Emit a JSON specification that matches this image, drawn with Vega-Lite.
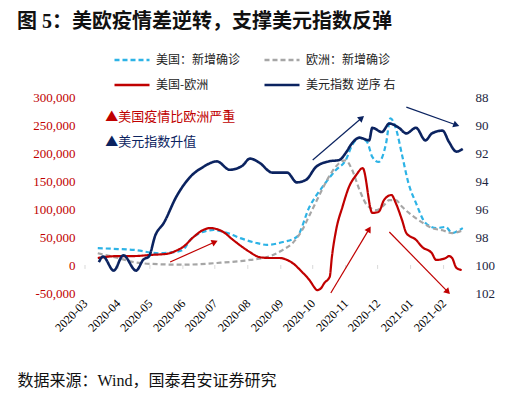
{
  "$schema": "https://vega.github.io/schema/vega-lite/v6.json",
  "width": 382,
  "height": 196,
  "autosize": {"type": "none"},
  "padding": {"left": 85, "top": 97, "right": 54, "bottom": 104},
  "background": "white",
  "config": {"view": {"stroke": null}, "font": "Noto Sans CJK SC", "axis": {"labelOverlap": false}},
  "title": {"text": "图 5：美欧疫情差逆转，支撑美元指数反弹", "anchor": "start", "frame": "group", "dx": -68, "dy": -5, "offset": 4, "fontSize": 20, "fontWeight": "bold", "color": "#111111", "font": "Liberation Serif, Noto Sans CJK SC"},
  "datasets": {
    "cases": [
      {"date": "2020-03-13", "series": "美国：新增确诊", "value": 30000},
      {"date": "2020-04-01", "series": "美国：新增确诊", "value": 28500},
      {"date": "2020-04-16", "series": "美国：新增确诊", "value": 27000},
      {"date": "2020-05-09", "series": "美国：新增确诊", "value": 21000},
      {"date": "2020-05-24", "series": "美国：新增确诊", "value": 23000},
      {"date": "2020-06-01", "series": "美国：新增确诊", "value": 27000},
      {"date": "2020-06-08", "series": "美国：新增确诊", "value": 45000},
      {"date": "2020-06-17", "series": "美国：新增确诊", "value": 57000},
      {"date": "2020-06-30", "series": "美国：新增确诊", "value": 62500},
      {"date": "2020-07-13", "series": "美国：新增确诊", "value": 57000},
      {"date": "2020-07-25", "series": "美国：新增确诊", "value": 48000},
      {"date": "2020-08-10", "series": "美国：新增确诊", "value": 39000},
      {"date": "2020-08-19", "series": "美国：新增确诊", "value": 36000},
      {"date": "2020-09-03", "series": "美国：新增确诊", "value": 41000},
      {"date": "2020-09-16", "series": "美国：新增确诊", "value": 50000},
      {"date": "2020-09-28", "series": "美国：新增确诊", "value": 104000},
      {"date": "2020-10-10", "series": "美国：新增确诊", "value": 139000},
      {"date": "2020-10-23", "series": "美国：新增确诊", "value": 170000},
      {"date": "2020-11-01", "series": "美国：新增确诊", "value": 187000},
      {"date": "2020-11-07", "series": "美国：新增确诊", "value": 214000},
      {"date": "2020-11-14", "series": "美国：新增确诊", "value": 227000},
      {"date": "2020-11-21", "series": "美国：新增确诊", "value": 220000},
      {"date": "2020-11-26", "series": "美国：新增确诊", "value": 193000},
      {"date": "2020-12-02", "series": "美国：新增确诊", "value": 184000},
      {"date": "2020-12-09", "series": "美国：新增确诊", "value": 218000},
      {"date": "2020-12-13", "series": "美国：新增确诊", "value": 262000},
      {"date": "2020-12-18", "series": "美国：新增确诊", "value": 245000},
      {"date": "2020-12-24", "series": "美国：新增确诊", "value": 196000},
      {"date": "2020-12-30", "series": "美国：新增确诊", "value": 146000},
      {"date": "2021-01-06", "series": "美国：新增确诊", "value": 111000},
      {"date": "2021-01-15", "series": "美国：新增确诊", "value": 75000},
      {"date": "2021-01-25", "series": "美国：新增确诊", "value": 66000},
      {"date": "2021-02-03", "series": "美国：新增确诊", "value": 68000},
      {"date": "2021-02-09", "series": "美国：新增确诊", "value": 57000},
      {"date": "2021-02-16", "series": "美国：新增确诊", "value": 62500},
      {"date": "2021-02-19", "series": "美国：新增确诊", "value": 66000},

      {"date": "2020-03-13", "series": "欧洲：新增确诊", "value": 21000},
      {"date": "2020-04-01", "series": "欧洲：新增确诊", "value": 12500},
      {"date": "2020-04-16", "series": "欧洲：新增确诊", "value": 5000},
      {"date": "2020-05-02", "series": "欧洲：新增确诊", "value": 2000},
      {"date": "2020-06-01", "series": "欧洲：新增确诊", "value": 500},
      {"date": "2020-07-03", "series": "欧洲：新增确诊", "value": 3600},
      {"date": "2020-08-03", "series": "欧洲：新增确诊", "value": 9000},
      {"date": "2020-08-19", "series": "欧洲：新增确诊", "value": 14000},
      {"date": "2020-09-03", "series": "欧洲：新增确诊", "value": 27000},
      {"date": "2020-09-12", "series": "欧洲：新增确诊", "value": 39000},
      {"date": "2020-09-21", "series": "欧洲：新增确诊", "value": 62000},
      {"date": "2020-09-28", "series": "欧洲：新增确诊", "value": 89000},
      {"date": "2020-10-05", "series": "欧洲：新增确诊", "value": 116000},
      {"date": "2020-10-12", "series": "欧洲：新增确诊", "value": 143000},
      {"date": "2020-10-19", "series": "欧洲：新增确诊", "value": 166000},
      {"date": "2020-10-26", "series": "欧洲：新增确诊", "value": 182000},
      {"date": "2020-11-01", "series": "欧洲：新增确诊", "value": 187000},
      {"date": "2020-11-07", "series": "欧洲：新增确诊", "value": 170000},
      {"date": "2020-11-14", "series": "欧洲：新增确诊", "value": 134000},
      {"date": "2020-11-21", "series": "欧洲：新增确诊", "value": 107000},
      {"date": "2020-11-30", "series": "欧洲：新增确诊", "value": 98000},
      {"date": "2020-12-07", "series": "欧洲：新增确诊", "value": 107000},
      {"date": "2020-12-12", "series": "欧洲：新增确诊", "value": 116000},
      {"date": "2020-12-18", "series": "欧洲：新增确诊", "value": 116000},
      {"date": "2020-12-24", "series": "欧洲：新增确诊", "value": 104000},
      {"date": "2021-01-02", "series": "欧洲：新增确诊", "value": 89000},
      {"date": "2021-01-11", "series": "欧洲：新增确诊", "value": 77000},
      {"date": "2021-01-21", "series": "欧洲：新增确诊", "value": 66000},
      {"date": "2021-01-31", "series": "欧洲：新增确诊", "value": 62000},
      {"date": "2021-02-09", "series": "欧洲：新增确诊", "value": 57000},
      {"date": "2021-02-19", "series": "欧洲：新增确诊", "value": 62000},

      {"date": "2020-03-13", "series": "美国-欧洲", "value": 12500},
      {"date": "2020-04-01", "series": "美国-欧洲", "value": 16000},
      {"date": "2020-04-16", "series": "美国-欧洲", "value": 16000},
      {"date": "2020-05-02", "series": "美国-欧洲", "value": 18000},
      {"date": "2020-05-17", "series": "美国-欧洲", "value": 20000},
      {"date": "2020-05-25", "series": "美国-欧洲", "value": 25000},
      {"date": "2020-06-01", "series": "美国-欧洲", "value": 32000},
      {"date": "2020-06-11", "series": "美国-欧洲", "value": 50000},
      {"date": "2020-06-20", "series": "美国-欧洲", "value": 62500},
      {"date": "2020-06-27", "series": "美国-欧洲", "value": 66000},
      {"date": "2020-07-03", "series": "美国-欧洲", "value": 64000},
      {"date": "2020-07-09", "series": "美国-欧洲", "value": 59000},
      {"date": "2020-07-18", "series": "美国-欧洲", "value": 45000},
      {"date": "2020-07-27", "series": "美国-欧洲", "value": 32000},
      {"date": "2020-08-03", "series": "美国-欧洲", "value": 23000},
      {"date": "2020-08-12", "series": "美国-欧洲", "value": 14000},
      {"date": "2020-08-22", "series": "美国-欧洲", "value": 12500},
      {"date": "2020-08-31", "series": "美国-欧洲", "value": 12500},
      {"date": "2020-09-07", "series": "美国-欧洲", "value": 9000},
      {"date": "2020-09-12", "series": "美国-欧洲", "value": 3600},
      {"date": "2020-09-21", "series": "美国-欧洲", "value": -12500},
      {"date": "2020-09-28", "series": "美国-欧洲", "value": -27000},
      {"date": "2020-10-03", "series": "美国-欧洲", "value": -41000},
      {"date": "2020-10-05", "series": "美国-欧洲", "value": -45000},
      {"date": "2020-10-09", "series": "美国-欧洲", "value": -41000},
      {"date": "2020-10-12", "series": "美国-欧洲", "value": -32000},
      {"date": "2020-10-17", "series": "美国-欧洲", "value": -21000},
      {"date": "2020-10-19", "series": "美国-欧洲", "value": 14000},
      {"date": "2020-10-23", "series": "美国-欧洲", "value": 62500},
      {"date": "2020-10-29", "series": "美国-欧洲", "value": 104000},
      {"date": "2020-11-04", "series": "美国-欧洲", "value": 139000},
      {"date": "2020-11-11", "series": "美国-欧洲", "value": 161000},
      {"date": "2020-11-17", "series": "美国-欧洲", "value": 173000},
      {"date": "2020-11-26", "series": "美国-欧洲", "value": 93000},
      {"date": "2020-12-02", "series": "美国-欧洲", "value": 95000},
      {"date": "2020-12-07", "series": "美国-欧洲", "value": 116000},
      {"date": "2020-12-14", "series": "美国-欧洲", "value": 125000},
      {"date": "2020-12-18", "series": "美国-欧洲", "value": 111000},
      {"date": "2020-12-24", "series": "美国-欧洲", "value": 80000},
      {"date": "2020-12-28", "series": "美国-欧洲", "value": 57000},
      {"date": "2021-01-06", "series": "美国-欧洲", "value": 45000},
      {"date": "2021-01-12", "series": "美国-欧洲", "value": 32000},
      {"date": "2021-01-21", "series": "美国-欧洲", "value": 21000},
      {"date": "2021-01-25", "series": "美国-欧洲", "value": 9000},
      {"date": "2021-02-03", "series": "美国-欧洲", "value": 12500},
      {"date": "2021-02-06", "series": "美国-欧洲", "value": 16000},
      {"date": "2021-02-09", "series": "美国-欧洲", "value": 12500},
      {"date": "2021-02-13", "series": "美国-欧洲", "value": -5000},
      {"date": "2021-02-18", "series": "美国-欧洲", "value": -9000}
    ],
    "usd": [
      {"date": "2020-03-14", "series": "美元指数 逆序 右", "value": 99.8},
      {"date": "2020-03-18", "series": "美元指数 逆序 右", "value": 99.4},
      {"date": "2020-03-28", "series": "美元指数 逆序 右", "value": 100.4},
      {"date": "2020-04-06", "series": "美元指数 逆序 右", "value": 99.3},
      {"date": "2020-04-18", "series": "美元指数 逆序 右", "value": 100.4},
      {"date": "2020-04-25", "series": "美元指数 逆序 右", "value": 99.6},
      {"date": "2020-04-30", "series": "美元指数 逆序 右", "value": 99.4},
      {"date": "2020-05-06", "series": "美元指数 逆序 右", "value": 97.9},
      {"date": "2020-05-14", "series": "美元指数 逆序 右", "value": 97.0},
      {"date": "2020-05-26", "series": "美元指数 逆序 右", "value": 95.1},
      {"date": "2020-06-08", "series": "美元指数 逆序 右", "value": 93.7},
      {"date": "2020-06-20", "series": "美元指数 逆序 右", "value": 93.0},
      {"date": "2020-07-03", "series": "美元指数 逆序 右", "value": 92.6},
      {"date": "2020-07-15", "series": "美元指数 逆序 右", "value": 93.2},
      {"date": "2020-07-27", "series": "美元指数 逆序 右", "value": 92.9},
      {"date": "2020-08-03", "series": "美元指数 逆序 右", "value": 92.4},
      {"date": "2020-08-12", "series": "美元指数 逆序 右", "value": 92.7},
      {"date": "2020-08-24", "series": "美元指数 逆序 右", "value": 93.4},
      {"date": "2020-09-07", "series": "美元指数 逆序 右", "value": 93.4},
      {"date": "2020-09-16", "series": "美元指数 逆序 右", "value": 94.1},
      {"date": "2020-09-25", "series": "美元指数 逆序 右", "value": 93.9},
      {"date": "2020-10-04", "series": "美元指数 逆序 右", "value": 93.0},
      {"date": "2020-10-16", "series": "美元指数 逆序 右", "value": 92.6},
      {"date": "2020-10-26", "series": "美元指数 逆序 右", "value": 92.5},
      {"date": "2020-11-01", "series": "美元指数 逆序 右", "value": 92.0},
      {"date": "2020-11-07", "series": "美元指数 逆序 右", "value": 91.3},
      {"date": "2020-11-14", "series": "美元指数 逆序 右", "value": 90.9},
      {"date": "2020-11-23", "series": "美元指数 逆序 右", "value": 91.1},
      {"date": "2020-11-26", "series": "美元指数 逆序 右", "value": 90.2},
      {"date": "2020-12-05", "series": "美元指数 逆序 右", "value": 90.5},
      {"date": "2020-12-12", "series": "美元指数 逆序 右", "value": 89.9},
      {"date": "2020-12-21", "series": "美元指数 逆序 右", "value": 90.2},
      {"date": "2020-12-28", "series": "美元指数 逆序 右", "value": 90.6},
      {"date": "2021-01-06", "series": "美元指数 逆序 右", "value": 90.2},
      {"date": "2021-01-15", "series": "美元指数 逆序 右", "value": 91.1},
      {"date": "2021-01-21", "series": "美元指数 逆序 右", "value": 90.6},
      {"date": "2021-01-31", "series": "美元指数 逆序 右", "value": 90.4},
      {"date": "2021-02-06", "series": "美元指数 逆序 右", "value": 91.2},
      {"date": "2021-02-13", "series": "美元指数 逆序 右", "value": 91.9},
      {"date": "2021-02-19", "series": "美元指数 逆序 右", "value": 91.7}
    ],
    "arrows": [
      {"id": "a1", "kind": "红", "x1": "2020-05-20", "y1": 5400, "x2": "2020-07-01", "y2": 41000},
      {"id": "a2", "kind": "蓝", "x1": "2020-10-01", "y1": 187500, "x2": "2020-11-16", "y2": 262500},
      {"id": "a3", "kind": "蓝", "x1": "2020-12-28", "y1": 282000, "x2": "2021-02-13", "y2": 250000},
      {"id": "a4", "kind": "红", "x1": "2020-10-18", "y1": -50000, "x2": "2020-11-23", "y2": 64000},
      {"id": "a5", "kind": "红", "x1": "2020-12-12", "y1": 59000, "x2": "2021-02-05", "y2": -48000}
    ],
    "notes": [
      {"kind": "红", "date": "2020-03-20", "v": 264000, "label": "▲美国疫情比欧洲严重"},
      {"kind": "蓝", "date": "2020-03-20", "v": 220000, "label": "▲美元指数升值"}
    ],
    "months": [
      {"date": "2020-03-01"}, {"date": "2020-04-01"}, {"date": "2020-05-01"}, {"date": "2020-06-01"},
      {"date": "2020-07-01"}, {"date": "2020-08-01"}, {"date": "2020-09-01"}, {"date": "2020-10-01"},
      {"date": "2020-11-01"}, {"date": "2020-12-01"}, {"date": "2021-01-01"}, {"date": "2021-02-01"}
    ]
  },
  "layer": [
    {
      "layer": [
        {
          "data": {"name": "months"},
          "mark": {"type": "rule", "color": "#D9D9D9", "strokeWidth": 1},
          "encoding": {
            "x": {"field": "date", "type": "temporal"},
            "y": {"datum": 0},
            "y2": {"datum": -7000}
          }
        },
        {
          "mark": {"type": "rule", "color": "#D9D9D9", "strokeWidth": 1},
          "encoding": {"y": {"datum": 0}}
        },
        {
          "data": {"name": "cases"},
          "mark": {"type": "line", "strokeWidth": 2.2, "interpolate": "monotone"},
          "encoding": {
            "x": {
              "field": "date", "type": "temporal",
              "scale": {"domain": [{"year": 2020, "month": 3, "date": 1, "utc": true}, {"year": 2021, "month": 2, "date": 23, "utc": true}]},
              "axis": {
                "orient": "bottom", "domain": false, "ticks": false, "grid": false,
                "format": "%Y-%m", "labelAngle": -45, "labelAlign": "right", "labelBaseline": "middle",
                "labelFont": "Liberation Serif", "labelFontSize": 12, "labelColor": "#000000", "labelPadding": 8,
                "tickCount": {"interval": "month", "step": 1}, "labelOverlap": false, "labelBound": false, "labelFlush": false,
                "title": "数据来源：Wind，国泰君安证券研究", "titleAnchor": "start", "titleAlign": "left",
                "titleX": -68, "titleY": 87, "titleBaseline": "middle", "titleFont": "Liberation Serif, Noto Sans CJK SC",
                "titleFontSize": 16, "titleFontWeight": "normal", "titleColor": "#111111"
              }
            },
            "y": {
              "field": "value", "type": "quantitative",
              "scale": {"domain": [-50000, 300000], "nice": false, "zero": false},
              "axis": {
                "orient": "left", "domain": false, "ticks": false, "grid": false, "title": null,
                "values": [-50000, 0, 50000, 100000, 150000, 200000, 250000, 300000], "tickCount": 10,
                "format": ",d", "labelExpr": "replace(datum.label, '\u2212', '-')", "labelOverlap": false,
                "labelColor": "#C00000", "labelFont": "Liberation Serif", "labelFontSize": 13, "labelPadding": 10
              }
            },
            "color": {
              "field": "series", "type": "nominal",
              "scale": {"domain": ["美国：新增确诊", "美国-欧洲", "欧洲：新增确诊", "美元指数 逆序 右"], "range": ["#2DB3E6", "#C00000", "#A6A6A6", "#0B2360"]},
              "legend": {
                "title": null, "orient": "none", "legendX": 28, "legendY": -56, "columns": 2,
                "symbolType": "stroke", "symbolSize": 1225, "symbolStrokeWidth": 2.5,
                "labelFont": "Noto Sans CJK SC", "labelFontSize": 12, "labelColor": "#222222",
                "labelOffset": 5, "rowPadding": -13, "columnPadding": 18
              }
            },
            "strokeDash": {
              "field": "series", "type": "nominal",
              "scale": {"domain": ["美国：新增确诊", "美国-欧洲", "欧洲：新增确诊", "美元指数 逆序 右"], "range": [[5, 3], [1, 0], [5, 3], [1, 0]]},
              "legend": {
                "title": null, "orient": "none", "legendX": 28, "legendY": -56, "columns": 2,
                "symbolType": "stroke", "symbolSize": 1225, "symbolStrokeWidth": 2.5,
                "labelFont": "Noto Sans CJK SC", "labelFontSize": 12, "labelColor": "#222222",
                "labelOffset": 5, "rowPadding": -13, "columnPadding": 18
              }
            }
          }
        },
        {
          "data": {"name": "arrows"},
          "transform": [{"filter": "datum.kind === '红'"}],
          "mark": {"type": "rule", "color": "#C00000", "strokeWidth": 1.2},
          "encoding": {
            "x": {"field": "x1", "type": "temporal"},
            "x2": {"field": "x2"},
            "y": {"field": "y1", "type": "quantitative"},
            "y2": {"field": "y2"}
          }
        },
        {
          "data": {"name": "arrows"},
          "transform": [{"filter": "datum.kind === '蓝'"}],
          "mark": {"type": "rule", "color": "#0B2360", "strokeWidth": 1.2},
          "encoding": {
            "x": {"field": "x1", "type": "temporal"},
            "x2": {"field": "x2"},
            "y": {"field": "y1", "type": "quantitative"},
            "y2": {"field": "y2"}
          }
        },
        {
          "data": {"name": "arrows"},
          "transform": [{"filter": "datum.id === 'a1'"}],
          "mark": {"type": "point", "shape": "triangle-up", "filled": true, "opacity": 1, "color": "#C00000", "size": 50, "angle": 66},
          "encoding": {"x": {"field": "x2", "type": "temporal"}, "y": {"field": "y2", "type": "quantitative"}}
        },
        {
          "data": {"name": "arrows"},
          "transform": [{"filter": "datum.id === 'a2'"}],
          "mark": {"type": "point", "shape": "triangle-up", "filled": true, "opacity": 1, "color": "#0B2360", "size": 50, "angle": 50},
          "encoding": {"x": {"field": "x2", "type": "temporal"}, "y": {"field": "y2", "type": "quantitative"}}
        },
        {
          "data": {"name": "arrows"},
          "transform": [{"filter": "datum.id === 'a3'"}],
          "mark": {"type": "point", "shape": "triangle-up", "filled": true, "opacity": 1, "color": "#0B2360", "size": 50, "angle": 110},
          "encoding": {"x": {"field": "x2", "type": "temporal"}, "y": {"field": "y2", "type": "quantitative"}}
        },
        {
          "data": {"name": "arrows"},
          "transform": [{"filter": "datum.id === 'a4'"}],
          "mark": {"type": "point", "shape": "triangle-up", "filled": true, "opacity": 1, "color": "#C00000", "size": 50, "angle": 31},
          "encoding": {"x": {"field": "x2", "type": "temporal"}, "y": {"field": "y2", "type": "quantitative"}}
        },
        {
          "data": {"name": "arrows"},
          "transform": [{"filter": "datum.id === 'a5'"}],
          "mark": {"type": "point", "shape": "triangle-up", "filled": true, "opacity": 1, "color": "#C00000", "size": 50, "angle": 136},
          "encoding": {"x": {"field": "x2", "type": "temporal"}, "y": {"field": "y2", "type": "quantitative"}}
        },
        {
          "data": {"name": "notes"},
          "transform": [{"filter": "datum.kind === '红'"}],
          "mark": {"type": "text", "align": "left", "baseline": "middle", "font": "Noto Sans CJK SC", "fontSize": 13, "color": "#C00000"},
          "encoding": {"x": {"field": "date", "type": "temporal"}, "y": {"field": "v", "type": "quantitative"}, "text": {"field": "label"}}
        },
        {
          "data": {"name": "notes"},
          "transform": [{"filter": "datum.kind === '蓝'"}],
          "mark": {"type": "text", "align": "left", "baseline": "middle", "font": "Noto Sans CJK SC", "fontSize": 13, "color": "#0B2360"},
          "encoding": {"x": {"field": "date", "type": "temporal"}, "y": {"field": "v", "type": "quantitative"}, "text": {"field": "label"}}
        }
      ]
    },
    {
      "data": {"name": "usd"},
      "mark": {"type": "line", "strokeWidth": 2.6, "interpolate": "monotone"},
      "encoding": {
        "x": {"field": "date", "type": "temporal"},
        "y": {
          "field": "value", "type": "quantitative",
          "scale": {"domain": [88, 102], "reverse": true, "nice": false, "zero": false},
          "axis": {
            "orient": "right", "domain": false, "ticks": false, "grid": false, "title": null,
            "values": [88, 90, 92, 94, 96, 98, 100, 102], "tickCount": 10, "labelOverlap": false,
            "labelColor": "#1B2440", "labelFont": "Liberation Serif", "labelFontSize": 13, "labelPadding": 8
          }
        },
        "color": {"field": "series", "type": "nominal"},
        "strokeDash": {"field": "series", "type": "nominal"}
      }
    }
  ],
  "resolve": {"scale": {"y": "independent"}}
}
